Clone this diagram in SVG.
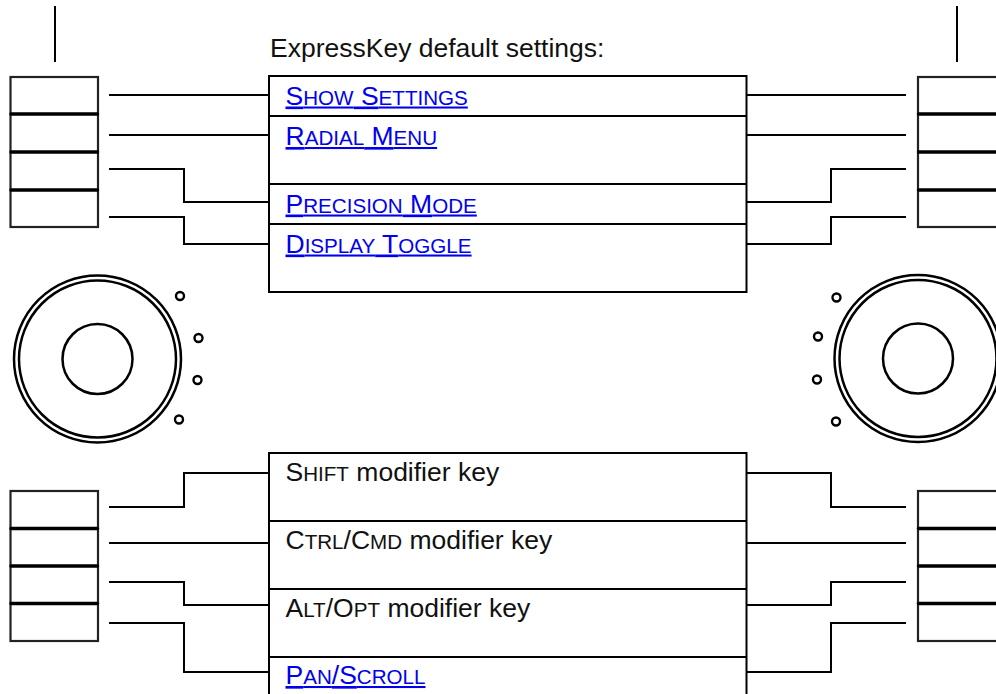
<svg xmlns="http://www.w3.org/2000/svg" width="996" height="694" viewBox="0 0 996 694">
<style>
  text { font-family: "Liberation Sans", Arial, Helvetica, sans-serif; font-size: 26.5px; fill: #111; }
  .sc { font-size: 20.6px; }
  .link { fill: #0000EE; text-decoration: underline; }
  .tbl { fill: #fff; stroke: #000; stroke-width: 2; }
  .row { stroke: #000; stroke-width: 2; fill: none; }
  .keys { fill: #fff; stroke: #222; stroke-width: 2.2; }
  .div { stroke: #000; stroke-width: 3.4; stroke-linecap: round; }
  .ring { fill: none; stroke: #000; stroke-width: 2.5; }
  .dot { fill: #fff; stroke: #000; stroke-width: 2.4; }
  .wire { fill: none; stroke: #000; stroke-width: 2; }
</style>

<g id="pointer-lines">
  <line class="wire" x1="55" y1="6" x2="55" y2="62"/>
  <line class="wire" x1="957" y1="6" x2="957" y2="62"/>
</g>

<text id="heading" x="270" y="57">ExpressKey default settings:</text>

<g id="keys-top-left">
  <rect class="keys" x="10.5" y="77" width="87.5" height="150"/>
  <line class="div" x1="11" y1="114" x2="97.5" y2="114"/>
  <line class="div" x1="11" y1="152" x2="97.5" y2="152"/>
  <line class="div" x1="11" y1="190" x2="97.5" y2="190"/>
</g>
<g id="keys-top-right">
  <rect class="keys" x="918" y="77" width="87.5" height="150"/>
  <line class="div" x1="918.5" y1="114" x2="1005" y2="114"/>
  <line class="div" x1="918.5" y1="152" x2="1005" y2="152"/>
  <line class="div" x1="918.5" y1="190" x2="1005" y2="190"/>
</g>
<g id="keys-bottom-left">
  <rect class="keys" x="10.5" y="491" width="87.5" height="150"/>
  <line class="div" x1="11" y1="528.5" x2="97.5" y2="528.5"/>
  <line class="div" x1="11" y1="566" x2="97.5" y2="566"/>
  <line class="div" x1="11" y1="603.5" x2="97.5" y2="603.5"/>
</g>
<g id="keys-bottom-right">
  <rect class="keys" x="918" y="491" width="87.5" height="150"/>
  <line class="div" x1="918.5" y1="528.5" x2="1005" y2="528.5"/>
  <line class="div" x1="918.5" y1="566" x2="1005" y2="566"/>
  <line class="div" x1="918.5" y1="603.5" x2="1005" y2="603.5"/>
</g>

<g id="dial-left">
  <circle class="ring" cx="97.5" cy="359" r="83.5"/>
  <circle class="ring" cx="97.5" cy="359" r="78.5"/>
  <circle class="ring" cx="97.5" cy="359" r="35"/>
  <circle class="dot" cx="180" cy="296" r="4"/>
  <circle class="dot" cx="198.5" cy="338" r="4"/>
  <circle class="dot" cx="197.5" cy="380" r="4"/>
  <circle class="dot" cx="179" cy="419.5" r="4"/>
</g>
<g id="dial-right">
  <circle class="ring" cx="918" cy="358.5" r="83.5"/>
  <circle class="ring" cx="918" cy="358.5" r="78.5"/>
  <circle class="ring" cx="918" cy="358.5" r="35"/>
  <circle class="dot" cx="836.5" cy="297.5" r="4"/>
  <circle class="dot" cx="818" cy="336.5" r="4"/>
  <circle class="dot" cx="817" cy="379.5" r="4"/>
  <circle class="dot" cx="836" cy="421.5" r="4"/>
</g>

<g id="connectors">
  <path class="wire" d="M109,95 H268"/>
  <path class="wire" d="M109,135 H268"/>
  <path class="wire" d="M109,169 H184 V202 H268"/>
  <path class="wire" d="M109,217 H184 V244 H268"/>
  <path class="wire" d="M747,95 H906"/>
  <path class="wire" d="M747,135 H906"/>
  <path class="wire" d="M747,202 H831 V169 H906"/>
  <path class="wire" d="M747,244 H831 V217 H906"/>
  <path class="wire" d="M109,507 H184 V473 H268"/>
  <path class="wire" d="M109,543 H268"/>
  <path class="wire" d="M109,582 H184 V605 H268"/>
  <path class="wire" d="M109,623 H184 V672 H268"/>
  <path class="wire" d="M747,473 H831 V507 H906"/>
  <path class="wire" d="M747,543 H906"/>
  <path class="wire" d="M747,605 H831 V582 H906"/>
  <path class="wire" d="M747,672 H831 V623 H906"/>
</g>

<g id="table-top">
  <rect class="tbl" x="269" y="76" width="477.5" height="216"/>
  <g id="row-show-settings">
    <text class="link" x="285.5" y="104.5">S<tspan class="sc">HOW</tspan> S<tspan class="sc">ETTINGS</tspan></text>
  </g>
  <g id="row-radial-menu">
    <line class="row" x1="269" y1="116" x2="746.5" y2="116"/>
    <text class="link" x="285.5" y="145">R<tspan class="sc">ADIAL</tspan> M<tspan class="sc">ENU</tspan></text>
  </g>
  <g id="row-precision-mode">
    <line class="row" x1="269" y1="184" x2="746.5" y2="184"/>
    <text class="link" x="285.5" y="212.5">P<tspan class="sc">RECISION</tspan> M<tspan class="sc">ODE</tspan></text>
  </g>
  <g id="row-display-toggle">
    <line class="row" x1="269" y1="224" x2="746.5" y2="224"/>
    <text class="link" x="285.5" y="252.5">D<tspan class="sc">ISPLAY</tspan> T<tspan class="sc">OGGLE</tspan></text>
  </g>
</g>

<g id="table-bottom">
  <rect class="tbl" x="269" y="453" width="477.5" height="260"/>
  <g id="row-shift">
    <text x="285.5" y="481">S<tspan class="sc">HIFT</tspan> modifier key</text>
  </g>
  <g id="row-ctrl">
    <line class="row" x1="269" y1="521" x2="746.5" y2="521"/>
    <text x="285.5" y="549">C<tspan class="sc">TRL</tspan>/C<tspan class="sc">MD</tspan> modifier key</text>
  </g>
  <g id="row-alt">
    <line class="row" x1="269" y1="589" x2="746.5" y2="589"/>
    <text x="285.5" y="616.5">A<tspan class="sc">LT</tspan>/O<tspan class="sc">PT</tspan> modifier key</text>
  </g>
  <g id="row-pan">
    <line class="row" x1="269" y1="657" x2="746.5" y2="657"/>
    <text class="link" x="285.5" y="684">P<tspan class="sc">AN</tspan>/S<tspan class="sc">CROLL</tspan></text>
  </g>
</g>
</svg>
